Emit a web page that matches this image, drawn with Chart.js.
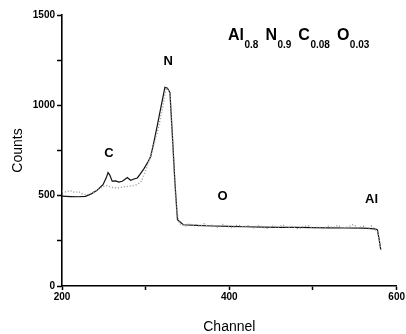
<!DOCTYPE html>
<html lang="en">
<head>
    <meta charset="UTF-8">
    <title>AlNCO spectrum</title>
    <script src="https://cdn.jsdelivr.net/npm/chart.js"></script>
    <style>
        body {
            margin: 0;
            background: white;
        }

        #wrap {
            width: 406px;
            height: 334px;
        }
    </style>
</head>
<body>
    <div id="wrap">
        <canvas id="spectrum" width="406" height="334"></canvas>
    </div>

    <script>
        // measured spectrum (grey dots)
        const measChannel = [200, 205, 210, 215, 220, 225, 230, 235, 240, 245, 250, 254, 258, 262, 266, 270, 275, 280, 285, 290, 295,
            300, 305, 310, 315, 320, 323, 325, 327, 329, 331, 333, 335, 337, 340, 344, 348, 352, 356, 360, 365, 370, 375, 380,
            386, 392, 398, 404, 410, 416, 422, 428, 434, 440, 446, 452, 458, 464, 470, 476, 482, 488, 494, 500, 506, 512, 518,
            524, 530, 536, 542, 548, 554, 560, 566, 570, 574, 577, 579, 581];
        const measCounts = [525, 520, 528, 518, 522, 508, 505, 512, 525, 540, 552, 556, 548, 545, 542, 546, 550, 552, 556, 562, 580,
            640, 705, 785, 870, 980, 1060, 1100, 1090, 1070, 900, 720, 560, 420, 345, 338, 332, 346, 334, 340, 330, 344, 328, 338,
            326, 340, 330, 322, 338, 328, 334, 320, 336, 326, 318, 332, 324, 338, 322, 330, 316, 328, 334, 320, 326, 318, 330,
            324, 336, 316, 328, 340, 322, 330, 318, 332, 312, 305, 260, 200];

        // simulated spectrum (solid line)
        const simChannel = [200, 210, 220, 228, 235, 242, 249, 253, 255, 257, 260, 264, 268, 272, 275, 278, 282, 286, 290, 293,
            298, 303, 306, 310, 314, 317, 320, 323, 326, 329, 332, 335, 338, 345, 360, 380, 400, 420, 440, 460, 480, 500, 520,
            540, 560, 570, 575, 577, 579, 581];
        const simCounts = [497, 495, 494, 496, 510, 530, 561, 600, 628, 615, 580, 582, 575, 580, 590, 600, 585, 592, 598, 617,
            650, 689, 717, 800, 890, 961, 1030, 1100, 1095, 1072, 828, 572, 367, 339, 336, 332, 330, 328, 326, 325, 324, 323, 322,
            321, 320, 318, 315, 311, 260, 200];

        const yTicks = [0, 500, 1000, 1500];
        const xTicks = [200, 400, 600];

        // peak labels, placed in data units
        const peakNames = ['C', 'N', 'O', 'Al'];
        const peakChannel = [256, 327, 392, 570];
        const peakCounts = [733, 1244, 494, 478];

        const formulaParts = [['Al', '0.8'], ['N', '0.9'], ['C', '0.08'], ['O', '0.03']];

        const toPoints = (xs, ys) => xs.map((x, i) => ({ x: x, y: ys[i] }));

        const labelPlugin = {
            id: 'peakLabels',
            afterDatasetsDraw(chart) {
                const ctx = chart.ctx;
                const xs = chart.scales.x;
                const ys = chart.scales.y;
                ctx.save();
                ctx.fillStyle = '#000';
                ctx.textAlign = 'center';
                ctx.textBaseline = 'middle';
                ctx.font = 'bold 13px "Liberation Sans", Arial, sans-serif';
                peakNames.forEach((name, i) => {
                    ctx.fillText(name, xs.getPixelForValue(peakChannel[i]), ys.getPixelForValue(peakCounts[i]));
                });

                // composition formula with subscripts
                let x = 228;
                const base = 40;
                ctx.textAlign = 'left';
                ctx.textBaseline = 'alphabetic';
                formulaParts.forEach(([el, sub]) => {
                    ctx.font = 'bold 16px "Liberation Sans", Arial, sans-serif';
                    ctx.fillText(el, x, base);
                    x += ctx.measureText(el).width + 0.5;
                    ctx.font = 'bold 10px "Liberation Sans", Arial, sans-serif';
                    ctx.fillText(sub, x, base + 8);
                    x += ctx.measureText(sub).width + 7;
                });
                ctx.restore();
            }
        };

        const tickFont = { family: '"Liberation Sans", Arial, sans-serif', size: 10, weight: 'bold' };
        const titleFont = { family: '"Liberation Sans", Arial, sans-serif', size: 14 };

        new Chart(document.getElementById('spectrum'), {
            type: 'line',
            data: {
                datasets: [{
                    label: 'Measured',
                    data: toPoints(measChannel, measCounts),
                    borderColor: '#9a9a9a',
                    borderWidth: 1.5,
                    borderDash: [1, 2],
                    pointRadius: 0,
                    tension: 0,
                    fill: false
                }, {
                    label: 'Simulated',
                    data: toPoints(simChannel, simCounts),
                    borderColor: '#111',
                    borderWidth: 1.2,
                    pointRadius: 0,
                    tension: 0,
                    fill: false
                }]
            },
            options: {
                responsive: false,
                animation: false,
                layout: {
                    autoPadding: false,
                    padding: { top: 15, right: 9, left: 0, bottom: 0 }
                },
                plugins: {
                    legend: { display: false },
                    tooltip: { enabled: false }
                },
                scales: {
                    x: {
                        type: 'linear',
                        min: 200,
                        max: 600,
                        afterFit: scale => { scale.height = 48; },
                        afterBuildTicks: scale => {
                            scale.ticks = [200, 300, 400, 500, 600].map(v => ({ value: v }));
                        },
                        ticks: {
                            color: '#000',
                            font: tickFont,
                            padding: 1,
                            maxRotation: 0,
                            callback: v => xTicks.includes(v) ? String(v) : ''
                        },
                        grid: {
                            drawOnChartArea: false,
                            color: '#000',
                            tickLength: 4,
                            tickWidth: 1.5
                        },
                        border: { color: '#000', width: 1.6 },
                        title: {
                            display: true,
                            text: 'Channel',
                            color: '#000',
                            font: titleFont,
                            padding: { top: 0, bottom: -2 }
                        }
                    },
                    y: {
                        min: 0,
                        max: 1500,
                        afterFit: scale => { scale.width = 62; },
                        afterBuildTicks: scale => {
                            scale.ticks = [0, 250, 500, 750, 1000, 1250, 1500].map(v => ({ value: v }));
                        },
                        ticks: {
                            color: '#000',
                            font: tickFont,
                            padding: 2,
                            callback: v => yTicks.includes(v) ? String(v) : ''
                        },
                        grid: {
                            drawOnChartArea: false,
                            color: '#000',
                            tickLength: 5,
                            tickWidth: 1.5
                        },
                        border: { color: '#000', width: 1.6 },
                        title: {
                            display: true,
                            text: 'Counts',
                            color: '#000',
                            font: titleFont,
                            padding: { top: 10, bottom: 0 }
                        }
                    }
                }
            },
            plugins: [labelPlugin]
        });
    </script>
</body>
</html>
